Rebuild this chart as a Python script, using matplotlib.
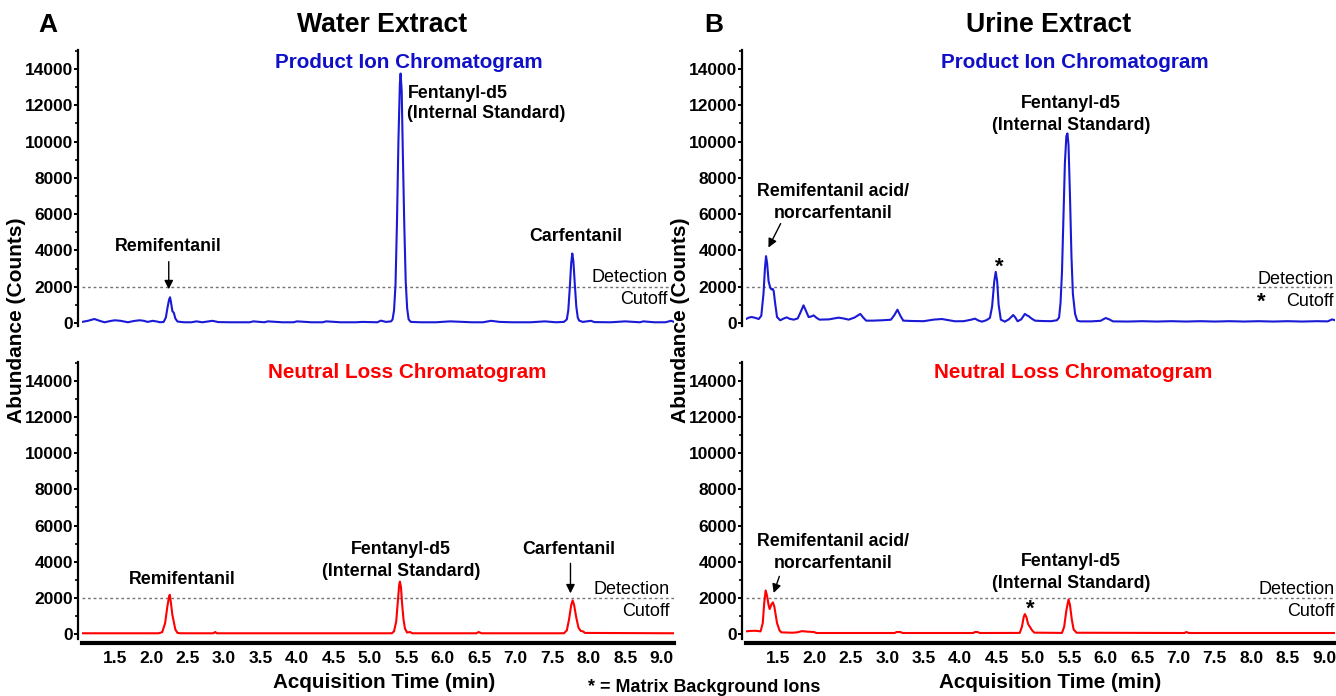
import matplotlib
matplotlib.use('Agg')
import matplotlib.pyplot as plt
from matplotlib.ticker import MultipleLocator, FixedLocator

plt.rcParams['font.family'] = ['Liberation Sans', 'DejaVu Sans']

# ---------------- data ----------------
# Water extract, product ion chromatogram (blue)
water_pi_time = [1.05, 1.13, 1.22, 1.30, 1.36, 1.44, 1.50, 1.58, 1.68, 1.76, 1.84, 1.90, 1.95,
                 2.02, 2.08, 2.12, 2.17, 2.20, 2.225, 2.245, 2.258, 2.27, 2.29, 2.31, 2.33, 2.36,
                 2.45, 2.55, 2.62, 2.70, 2.84, 2.92, 3.10, 3.35, 3.40, 3.55, 3.60, 3.80, 3.95,
                 4.00, 4.20, 4.35, 4.40, 4.60, 4.80, 4.90, 5.10, 5.15, 5.22, 5.29, 5.31, 5.33,
                 5.35, 5.37, 5.39, 5.41, 5.42, 5.435, 5.45, 5.47, 5.49, 5.51, 5.53, 5.56, 5.70,
                 5.90, 6.10, 6.40, 6.55, 6.66, 6.78, 6.95, 7.20, 7.40, 7.55, 7.66, 7.70, 7.72,
                 7.74, 7.76, 7.775, 7.79, 7.81, 7.83, 7.85, 7.87, 7.92, 8.03, 8.08, 8.30, 8.50,
                 8.70, 8.75, 8.90, 9.05, 9.13, 9.17]
water_pi_abund = [60, 120, 220, 110, 40, 110, 150, 120, 40, 110, 150, 120, 60,
                  120, 80, 40, 60, 300, 900, 1300, 1420, 1150, 650, 560, 250, 80,
                  40, 40, 90, 40, 120, 50, 40, 40, 90, 40, 90, 40, 40,
                  90, 40, 40, 90, 40, 40, 60, 40, 130, 60, 90, 200, 700,
                  2100, 5500, 10000, 13200, 13750, 12800, 9500, 5500, 2300, 800, 200, 60, 40,
                  40, 90, 40, 40, 120, 60, 40, 40, 90, 40, 60, 200, 700,
                  1900, 3300, 3830, 3400, 2100, 900, 300, 130, 60, 120, 50, 40, 90,
                  40, 90, 40, 40, 120, 60]

# Water extract, neutral loss chromatogram (red)
water_nl_time = [1.05, 2.10, 2.15, 2.19, 2.22, 2.245, 2.255, 2.27, 2.29, 2.31, 2.33, 2.36, 2.40,
                 2.85, 2.877, 2.90, 5.30, 5.33, 5.36, 5.38, 5.40, 5.41, 5.425, 5.44, 5.46,
                 5.48, 5.51, 5.55, 5.58, 6.46, 6.49, 6.53, 7.66, 7.70, 7.73, 7.76, 7.78, 7.80,
                 7.83, 7.86, 7.89, 7.92, 7.95, 9.17]
water_nl_abund = [40, 40, 100, 600, 1500, 2100, 2170, 1700, 1050, 650, 250, 60, 40,
                  40, 110, 40, 40, 150, 700, 1700, 2700, 2900, 2600, 1700, 800,
                  300, 80, 110, 40, 40, 110, 40, 40, 200, 800, 1600, 1860, 1600,
                  900, 350, 170, 150, 60, 40]

# Urine extract, product ion chromatogram (blue)
urine_pi_time = [1.06, 1.10, 1.14, 1.19, 1.235, 1.27, 1.30, 1.32, 1.335, 1.35, 1.37, 1.394, 1.41,
                 1.427, 1.44, 1.46, 1.486, 1.53, 1.58, 1.62, 1.66, 1.715, 1.77, 1.81, 1.85, 1.88,
                 1.92, 1.95, 1.99, 2.03, 2.07, 2.20, 2.33, 2.40, 2.47, 2.55, 2.63, 2.67, 2.71,
                 2.80, 2.93, 3.05, 3.10, 3.14, 3.18, 3.22, 3.35, 3.50, 3.635, 3.75, 3.85, 3.93,
                 4.05, 4.15, 4.205, 4.25, 4.30, 4.36, 4.41, 4.44, 4.47, 4.49, 4.51, 4.53, 4.56,
                 4.615, 4.67, 4.73, 4.76, 4.79, 4.84, 4.89, 4.92, 4.945, 4.98, 5.03, 5.12, 5.25,
                 5.33, 5.36, 5.38, 5.40, 5.42, 5.44, 5.46, 5.475, 5.49, 5.51, 5.53, 5.55, 5.58,
                 5.61, 5.65, 5.80, 5.93, 6.00, 6.05, 6.10, 6.30, 6.50, 6.70, 6.90, 7.10, 7.30,
                 7.50, 7.70, 7.90, 8.10, 8.30, 8.50, 8.70, 8.90, 9.05, 9.11, 9.15]
urine_pi_abund = [220, 300, 330, 280, 220, 400, 1600, 3000, 3685, 3300, 2300, 1935, 1850,
                  1880, 1770, 1100, 330, 150, 250, 310, 230, 185, 250, 600, 975, 700,
                  330, 350, 420, 280, 185, 200, 295, 250, 185, 300, 500, 300, 130,
                  130, 150, 180, 450, 735, 400, 130, 110, 100, 185, 220, 150, 95,
                  100, 180, 240, 140, 75, 150, 280, 900, 2300, 2820, 2300, 1000, 185,
                  75, 200, 440, 300, 95, 200, 500, 420, 370, 250, 130, 110, 100,
                  150, 300, 1100, 2800, 5800, 8800, 10300, 10450, 9800, 7000, 3700, 1600, 500,
                  130, 90, 90, 120, 275, 200, 90, 80, 100, 80, 100, 80, 100,
                  80, 100, 80, 100, 80, 100, 80, 100, 90, 200, 150]

# Urine extract, neutral loss chromatogram (red)
urine_nl_time = [1.06, 1.12, 1.19, 1.26, 1.29, 1.31, 1.33, 1.35, 1.37, 1.385, 1.41, 1.43, 1.45,
                 1.47, 1.486, 1.52, 1.545, 1.70, 1.76, 1.83, 1.90, 1.99, 2.03, 3.10, 3.13, 3.18,
                 3.21, 4.18, 4.205, 4.24, 4.27, 4.82, 4.85, 4.875, 4.89, 4.91, 4.935, 4.955,
                 4.99, 5.02, 5.40, 5.43, 5.46, 5.49, 5.51, 5.535, 5.56, 5.60, 7.08, 7.11, 7.14,
                 9.15]
urine_nl_abund = [145, 170, 180, 145, 600, 1700, 2410, 2100, 1600, 1380, 1650, 1750, 1500,
                  1000, 610, 200, 90, 70, 90, 160, 130, 110, 55, 55, 110, 110,
                  55, 55, 110, 110, 55, 60, 400, 950, 1100, 950, 550, 420,
                  200, 75, 60, 400, 1300, 1915, 1600, 800, 250, 70, 55, 110, 55,
                  55]

detection_cutoff = 2000
x_tick_values = [1.5, 2.0, 2.5, 3.0, 3.5, 4.0, 4.5, 5.0, 5.5, 6.0, 6.5, 7.0, 7.5, 8.0, 8.5, 9.0]
x_tick_labels = ['1.5', '2.0', '2.5', '3.0', '3.5', '4.0', '4.5', '5.0', '5.5', '6.0', '6.5',
                 '7.0', '7.5', '8.0', '8.5', '9.0']

# ---------------- figure ----------------
W, H = 1336, 696
fig = plt.figure(figsize=(W / 100, H / 100), dpi=100)

BLUE = '#1a1ad6'
RED = '#ff0000'
TITLE_BLUE = '#1010c8'


def make_ax(x0, x1, y_zero, y_14k, ylim, xlim):
    scale = (y_zero - y_14k) / 14000.0
    top_px = y_zero - ylim[1] * scale
    bot_px = y_zero - ylim[0] * scale
    ax = fig.add_axes([x0 / W, 1 - bot_px / H, (x1 - x0) / W, (bot_px - top_px) / H])
    ax.set_xlim(*xlim)
    ax.set_ylim(*ylim)
    ax.patch.set_alpha(0)
    for s in ('top', 'right'):
        ax.spines[s].set_visible(False)
    ax.spines['left'].set_linewidth(1.6)
    ax.spines['left'].set_position(('outward', 3))
    ax.yaxis.set_major_locator(MultipleLocator(2000))
    ax.yaxis.set_minor_locator(MultipleLocator(1000))
    ax.tick_params(axis='y', which='major', direction='out', length=3, width=1.4, pad=0.5,
                   labelsize=12.5)
    ax.tick_params(axis='y', which='minor', direction='out', length=2.5, width=1.2)
    for lab in ax.get_yticklabels():
        lab.set_fontweight('bold')
    ax.axhline(detection_cutoff, color='0.45', lw=1.0, ls=(0, (2, 2)), zorder=1)
    return ax


def style_bottom(ax, show):
    if not show:
        ax.spines['bottom'].set_visible(False)
        ax.set_xticks([])
    else:
        ax.spines['bottom'].set_linewidth(3)
        ax.spines['bottom'].set_position(('outward', 3))
        ax.xaxis.set_major_locator(FixedLocator(x_tick_values))
        ax.set_xticklabels(x_tick_labels, fontweight='bold', fontsize=12.5)
        ax.tick_params(axis='x', length=0, pad=6)


L_X = (82, 674)
R_X = (746, 1335)
L_XLIM = (1.05, 9.17)
R_XLIM = (1.06, 9.15)
TOP = dict(y_zero=323, y_14k=69, ylim=(-150, 15050))
BOT = dict(y_zero=634, y_14k=381, ylim=(-250, 15050))

ax_tl = make_ax(*L_X, xlim=L_XLIM, **TOP)
ax_bl = make_ax(*L_X, xlim=L_XLIM, **BOT)
ax_tr = make_ax(*R_X, xlim=R_XLIM, **TOP)
ax_br = make_ax(*R_X, xlim=R_XLIM, **BOT)
style_bottom(ax_tl, False)
style_bottom(ax_tr, False)
style_bottom(ax_bl, True)
style_bottom(ax_br, True)

ax_tl.plot(water_pi_time, water_pi_abund, color=BLUE, lw=1.5, zorder=3)
ax_bl.plot(water_nl_time, water_nl_abund, color=RED, lw=1.5, zorder=3)
ax_tr.plot(urine_pi_time, urine_pi_abund, color=BLUE, lw=1.5, zorder=3)
ax_br.plot(urine_nl_time, urine_nl_abund, color=RED, lw=1.5, zorder=3)


def ftext(x, y, s, **kw):
    kw.setdefault('va', 'center')
    fig.text(x / W, 1 - y / H, s, **kw)


def arrow(ax, x0, y0, x1, y1):
    ax.annotate('', xy=(x1, y1), xytext=(x0, y0),
                arrowprops=dict(arrowstyle='-|>', color='black', lw=1.0,
                                mutation_scale=13, shrinkA=0, shrinkB=0), zorder=4)


# panel titles
ftext(48, 25, 'A', fontsize=19, fontweight='bold', ha='center')
ftext(382, 25, 'Water Extract', fontsize=19.2, fontweight='bold', ha='center')
ftext(714, 25, 'B', fontsize=19, fontweight='bold', ha='center')
ftext(1049, 25, 'Urine Extract', fontsize=19.2, fontweight='bold', ha='center')

ftext(409, 62, 'Product Ion Chromatogram', fontsize=14.9, fontweight='bold', color=TITLE_BLUE, ha='center')
ftext(1075, 62, 'Product Ion Chromatogram', fontsize=14.9, fontweight='bold', color=TITLE_BLUE, ha='center')
ftext(407, 373, 'Neutral Loss Chromatogram', fontsize=14.9, fontweight='bold', color=RED, ha='center')
ftext(1073, 373, 'Neutral Loss Chromatogram', fontsize=14.9, fontweight='bold', color=RED, ha='center')

# axis labels
ftext(17, 320, 'Abundance (Counts)', fontsize=15, fontweight='bold', rotation=90, ha='center')
ftext(681, 320, 'Abundance (Counts)', fontsize=15, fontweight='bold', rotation=90, ha='center')
ftext(384, 683, 'Acquisition Time (min)', fontsize=14.9, fontweight='bold', ha='center')
ftext(1050, 683, 'Acquisition Time (min)', fontsize=14.9, fontweight='bold', ha='center')
ftext(588, 687, '* = Matrix Background Ions', fontsize=12.9, fontweight='bold', ha='left')

# detection cutoff labels
for xr, y1, y2 in [(668, 278, 299), (1334, 279, 301), (670, 590, 612), (1335, 590, 612)]:
    ftext(xr, y1, 'Detection', fontsize=13, ha='right')
    ftext(xr, y2, 'Cutoff', fontsize=13, ha='right')

AN = dict(fontsize=12.8, fontweight='bold')
# top-left annotations
ftext(168, 247, 'Remifentanil', ha='center', **AN)
arrow(ax_tl, 2.24, 3380, 2.24, 1860)
ftext(408, 93, 'Fentanyl-d5', ha='left', **AN)
ftext(407, 114, '(Internal Standard)', ha='left', **AN)
ftext(576, 237, 'Carfentanil', ha='center', **AN)

# bottom-left annotations
ftext(182, 579, 'Remifentanil', ha='center', **AN)
ftext(401, 550, 'Fentanyl-d5', ha='center', **AN)
ftext(401, 571, '(Internal Standard)', ha='center', **AN)
ftext(569, 550, 'Carfentanil', ha='center', **AN)
arrow(ax_bl, 7.75, 3910, 7.75, 2250)

# top-right annotations
ftext(833, 192, 'Remifentanil acid/', ha='center', **AN)
ftext(833, 213, 'norcarfentanil', ha='center', **AN)
arrow(ax_tr, 1.536, 5480, 1.368, 4160)
ftext(1071, 104, 'Fentanyl-d5', ha='center', **AN)
ftext(1071, 126, '(Internal Standard)', ha='center', **AN)
ftext(999, 267, '*', ha='center', fontsize=16, fontweight='bold')
ftext(1261, 302, '*', ha='center', fontsize=16, fontweight='bold')

# bottom-right annotations
ftext(833, 542, 'Remifentanil acid/', ha='center', **AN)
ftext(833, 563, 'norcarfentanil', ha='center', **AN)
arrow(ax_br, 1.518, 3190, 1.44, 2270)
ftext(1071, 562, 'Fentanyl-d5', ha='center', **AN)
ftext(1071, 583, '(Internal Standard)', ha='center', **AN)
ftext(1030, 609, '*', ha='center', fontsize=16, fontweight='bold')

fig.savefig('out.png', dpi=100)
